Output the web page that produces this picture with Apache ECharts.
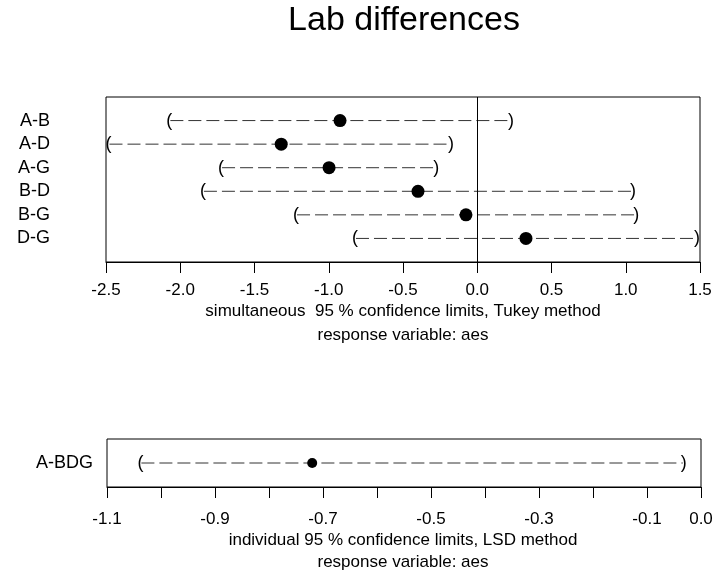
<!DOCTYPE html>
<html><head><meta charset="utf-8">
<script src="https://cdn.jsdelivr.net/npm/echarts@6/dist/echarts.min.js"></script>
<style>html,body{margin:0;padding:0;background:#fff}#c{width:725px;height:574px}</style>
</head><body><div id="c"></div>
<script>
// Top panel: simultaneous 95% limits (Tukey)
const comparisons = ['A-B', 'A-D', 'A-G', 'B-D', 'B-G', 'D-G'];
const estimates   = [-0.924, -1.32, -0.998, -0.399, -0.076, 0.328];
const lowerLimits = [-2.08, -2.49, -1.732, -1.854, -1.227, -0.83];
const upperLimits = [0.234, -0.17, -0.27, 1.056, 1.077, 1.487];
// Bottom panel: individual 95% limits (LSD)
const contrasts2  = ['A-BDG'];
const estimates2  = [-0.72];
const lower2      = [-1.04];
const upper2      = [-0.03];

const FONT = 'Liberation Sans, Arial, sans-serif';
const chart = echarts.init(document.getElementById('c'), null, {renderer: 'canvas'});

function ciItem(params, api) {
  const y = api.value(0), lo = api.value(1), hi = api.value(2);
  const p1 = api.coord([lo, y]);
  const p2 = api.coord([hi, y]);
  const ts = {fontSize: 18, fontFamily: FONT, fill: '#000', align: 'center', verticalAlign: 'middle',
              textAlign: 'center', textVerticalAlign: 'middle'};
  return {type: 'group', children: [
    {type: 'line', shape: {x1: p1[0] + 2, y1: p1[1], x2: p2[0] - 2, y2: p2[1]},
     style: {stroke: '#333', lineWidth: 1, lineDash: [13, 5]}},
    {type: 'text', style: Object.assign({text: '(', x: p1[0] + 1, y: p1[1]}, ts)},
    {type: 'text', style: Object.assign({text: ')', x: p2[0] - 1, y: p2[1]}, ts)}
  ]};
}

const topCI = comparisons.map((c, i) => [i + 1, lowerLimits[i], upperLimits[i]]);
const topPts = comparisons.map((c, i) => [estimates[i], i + 1]);
const botCI = contrasts2.map((c, i) => [i + 1, lower2[i], upper2[i]]);
const botPts = contrasts2.map((c, i) => [estimates2[i], i + 1]);

const axisText = {color: '#000', fontSize: 17, fontFamily: FONT};

chart.setOption({
  animation: false,
  backgroundColor: '#fff',
  grid: [
    {left: 106, top: 97, width: 594, height: 165, show: true, borderColor: '#000', borderWidth: 1, containLabel: false},
    {left: 107, top: 439, width: 594, height: 48, show: true, borderColor: '#000', borderWidth: 1, containLabel: false}
  ],
  xAxis: [
    {type: 'value', gridIndex: 0, min: -2.5, max: 1.5, interval: 0.5,
     axisLine: {show: true, onZero: false, lineStyle: {color: '#000', width: 1}},
     axisTick: {show: true, length: 11, lineStyle: {color: '#000'}},
     splitLine: {show: false},
     axisLabel: Object.assign({margin: 20, formatter: v => v.toFixed(1)}, axisText)},
    {type: 'value', gridIndex: 1, min: -1.1, max: 0, interval: 0.1,
     axisLine: {show: true, onZero: false, lineStyle: {color: '#000', width: 1}},
     axisTick: {show: true, length: 11, lineStyle: {color: '#000'}},
     splitLine: {show: false},
     axisLabel: Object.assign({margin: 24, showMinLabel: true, showMaxLabel: true,
       formatter: v => { const k = Math.round(v * 10); return (k % 2 !== 0 || k === 0) ? (k / 10).toFixed(1) : ''; }}, axisText)}
  ],
  yAxis: [
    {type: 'value', gridIndex: 0, min: 0, max: 7, interval: 1, inverse: true,
     axisLine: {show: false}, axisTick: {show: false}, splitLine: {show: false},
     axisLabel: Object.assign({margin: 56, formatter: v => comparisons[v - 1] || ''}, axisText, {fontSize: 18})},
    {type: 'value', gridIndex: 1, min: 0, max: 2, interval: 1, inverse: true,
     axisLine: {show: false}, axisTick: {show: false}, splitLine: {show: false},
     axisLabel: Object.assign({margin: 14, formatter: v => contrasts2[v - 1] || ''}, axisText, {fontSize: 18})}
  ],
  series: [
    {type: 'custom', xAxisIndex: 0, yAxisIndex: 0, renderItem: ciItem, data: topCI,
     encode: {x: [1, 2], y: 0}, silent: true, z: 2},
    {type: 'scatter', xAxisIndex: 0, yAxisIndex: 0, data: topPts, symbol: 'circle', symbolSize: 13,
     itemStyle: {color: '#000', opacity: 1}, silent: true, z: 3,
     markLine: {silent: true, symbol: ['none', 'none'], label: {show: false},
       lineStyle: {color: '#000', width: 1, type: 'solid', opacity: 1}, data: [{xAxis: 0}]}},
    {type: 'custom', xAxisIndex: 1, yAxisIndex: 1, renderItem: ciItem, data: botCI,
     encode: {x: [1, 2], y: 0}, silent: true, z: 2},
    {type: 'scatter', xAxisIndex: 1, yAxisIndex: 1, data: botPts, symbol: 'circle', symbolSize: 10,
     itemStyle: {color: '#000', opacity: 1}, silent: true, z: 3}
  ],
  graphic: [
    {type: 'text', style: {text: 'Lab differences', x: 404, y: 21, fontSize: 34, fontFamily: FONT, fill: '#000', align: 'center', verticalAlign: 'middle'}},
    {type: 'text', style: {text: 'simultaneous  95 % confidence limits, Tukey method', x: 403, y: 311, fontSize: 17, fontFamily: FONT, fill: '#000', align: 'center', verticalAlign: 'middle'}},
    {type: 'text', style: {text: 'response variable: aes', x: 403, y: 335, fontSize: 17, fontFamily: FONT, fill: '#000', align: 'center', verticalAlign: 'middle'}},
    {type: 'text', style: {text: 'individual 95 % confidence limits, LSD method', x: 403, y: 540, fontSize: 17, fontFamily: FONT, fill: '#000', align: 'center', verticalAlign: 'middle'}},
    {type: 'text', style: {text: 'response variable: aes', x: 403, y: 562, fontSize: 17, fontFamily: FONT, fill: '#000', align: 'center', verticalAlign: 'middle'}}
  ]
});
</script></body></html>
